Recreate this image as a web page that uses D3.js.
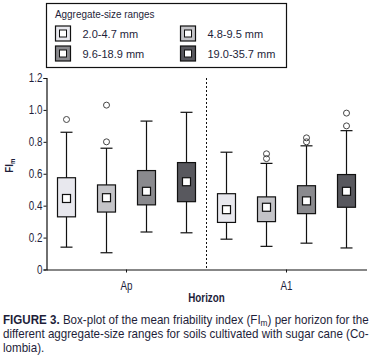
<!DOCTYPE html>
<html>
<head>
<meta charset="utf-8">
<script src="https://cdn.jsdelivr.net/npm/d3@7"></script>
<style>
  body { margin: 0; background: #fff; }
  svg text { fill: #1e1e3a; }
</style>
</head>
<body>
<svg id="chart" width="375" height="361"></svg>
<script>
// Box-plot of mean friability index per horizon and aggregate-size range

const horizons = ['Ap', 'A1'];
const sizeRanges = ['2.0-4.7 mm', '4.8-9.5 mm', '9.6-18.9 mm', '19.0-35.7 mm'];
const fills = ['#e8e8ee', '#c4c4c8', '#8a8a8e', '#58585e'];
const yTicks = [0, 0.2, 0.4, 0.6, 0.8, 1.0, 1.2];

// [whiskerLow, q1, q3, whiskerHigh, mean] per horizon, per size range
const apStats = [
  [0.14, 0.33, 0.575, 0.86, 0.445],
  [0.105, 0.36, 0.53, 0.76, 0.45],
  [0.235, 0.405, 0.62, 0.93, 0.49],
  [0.23, 0.425, 0.67, 0.985, 0.55]
];
const a1Stats = [
  [0.19, 0.295, 0.475, 0.735, 0.375],
  [0.145, 0.30, 0.455, 0.665, 0.39],
  [0.165, 0.35, 0.525, 0.775, 0.43],
  [0.135, 0.39, 0.595, 0.87, 0.49]
];
const apOutliers = [[0.94], [1.03, 0.80], [], []];
const a1Outliers = [[], [0.695, 0.725], [0.80, 0.825], [0.90, 0.98]];

const svg = d3.select('#chart');
const font = '"Liberation Sans", Arial, sans-serif';
const m = { left: 46.5, right: 366.5, top: 78, bottom: 269.5 };

const x = d3.scaleBand().domain(horizons).range([m.left, m.right]);
const xs = d3.scaleBand().domain(sizeRanges).range([0, x.bandwidth()]);
const y = d3.scaleLinear().domain([0, 1.2]).range([m.bottom, m.top]);
const boxW = 18;

// squeeze text horizontally to mimic the narrow typeface of the original
const narrow = (sel, k) => sel.attr('transform', function() {
  const old = d3.select(this).attr('transform');
  return (old ? old + ' ' : '') + `scale(${k},1)`;
});

const rows = [];
[apStats, a1Stats].forEach((stats, hi) => {
  stats.forEach((s, si) => {
    rows.push({
      h: horizons[hi], r: sizeRanges[si], fill: fills[si],
      lo: s[0], q1: s[1], q3: s[2], hi: s[3], mean: s[4],
      out: (hi === 0 ? apOutliers : a1Outliers)[si]
    });
  });
});

const cx = d => x(d.h) + xs(d.r) + xs.bandwidth() / 2;

// axes
const yAxis = svg.append('g').attr('transform', `translate(${m.left},0)`)
  .call(d3.axisLeft(y).tickValues(yTicks).tickSize(3).tickPadding(2)
    .tickFormat(d => d === 0 ? '0' : d3.format('.1f')(d)));
yAxis.select('.domain').attr('stroke', '#111').attr('stroke-width', 1.2);
yAxis.selectAll('.tick line').attr('stroke', '#111');
yAxis.selectAll('text').style('font-family', font).style('font-size', '12px').attr('fill', '#1e1e3a')
  .call(narrow, 0.82);

const xAxis = svg.append('g').attr('transform', `translate(0,${m.bottom})`)
  .call(d3.axisBottom(x).tickSize(3).tickSizeOuter(0).tickPadding(9));
xAxis.select('.domain').attr('stroke', '#111').attr('stroke-width', 1.2);
xAxis.selectAll('.tick line').attr('stroke', '#111');
xAxis.selectAll('text').style('font-family', font).style('font-size', '12px').attr('fill', '#1e1e3a')
  .call(narrow, 0.82);

// divider between horizons
svg.append('line')
  .attr('x1', x('A1')).attr('x2', x('A1'))
  .attr('y1', y(1.2)).attr('y2', m.bottom)
  .attr('stroke', '#111').attr('stroke-dasharray', '2,2');

// boxes
const g = svg.append('g').selectAll('g').data(rows).join('g');
g.append('line')
  .attr('x1', cx).attr('x2', cx)
  .attr('y1', d => y(d.lo)).attr('y2', d => y(d.hi))
  .attr('stroke', '#111').attr('stroke-width', 1.2);
g.append('line')
  .attr('x1', d => cx(d) - 6).attr('x2', d => cx(d) + 6)
  .attr('y1', d => y(d.lo)).attr('y2', d => y(d.lo))
  .attr('stroke', '#111').attr('stroke-width', 1.2);
g.append('line')
  .attr('x1', d => cx(d) - 6).attr('x2', d => cx(d) + 6)
  .attr('y1', d => y(d.hi)).attr('y2', d => y(d.hi))
  .attr('stroke', '#111').attr('stroke-width', 1.2);
g.append('rect')
  .attr('x', d => cx(d) - boxW / 2).attr('width', boxW)
  .attr('y', d => y(d.q3)).attr('height', d => y(d.q1) - y(d.q3))
  .attr('fill', d => d.fill).attr('stroke', '#111').attr('stroke-width', 1.2);
g.append('rect')
  .attr('x', d => cx(d) - 4).attr('width', 8)
  .attr('y', d => y(d.mean) - 4).attr('height', 8)
  .attr('fill', '#fff').attr('stroke', '#111').attr('stroke-width', 1.2);
g.selectAll('circle').data(d => d.out.map(v => ({ v, c: cx(d) }))).join('circle')
  .attr('cx', d => d.c).attr('cy', d => y(d.v)).attr('r', 3)
  .attr('fill', 'none').attr('stroke', '#444').attr('stroke-width', 1);

// axis titles
svg.append('text')
  .attr('transform', `translate(13,${(m.top + m.bottom) / 2 - 8}) rotate(-90) scale(0.85,1)`)
  .attr('text-anchor', 'middle')
  .style('font-family', font).style('font-size', '11.5px').style('font-weight', 'bold')
  .html('FI<tspan font-size="7" dy="2">m</tspan>');
svg.append('text')
  .attr('transform', `translate(${(m.left + m.right) / 2},302) scale(0.82,1)`)
  .attr('text-anchor', 'middle')
  .style('font-family', font).style('font-size', '12px').style('font-weight', 'bold')
  .text('Horizon');

// legend
const lg = svg.append('g');
lg.append('rect').attr('x', 46.5).attr('y', 3.5).attr('width', 240).attr('height', 64)
  .attr('fill', '#fff').attr('stroke', '#111').attr('stroke-width', 1.2);
lg.append('text').attr('transform', 'translate(55,18) scale(0.9,1)')
  .style('font-family', font).style('font-size', '11px')
  .text('Aggregate-size ranges');
const li = lg.selectAll('g.item').data(sizeRanges).join('g').attr('class', 'item')
  .attr('transform', (d, i) => `translate(${i % 2 ? 180.5 : 55.5},${i < 2 ? 26 : 46})`);
li.append('rect').attr('width', 15).attr('height', 15)
  .attr('fill', (d, i) => fills[i]).attr('stroke', '#111').attr('stroke-width', 1.2);
li.append('rect').attr('x', 4).attr('y', 4).attr('width', 7).attr('height', 7)
  .attr('fill', '#fff').attr('stroke', '#111').attr('stroke-width', 1);
li.append('text').attr('x', 27).attr('y', 12)
  .style('font-family', font).style('font-size', '11px')
  .text(d => d);

// caption
const capLines = [
  ['FIGURE 3.', ' Box-plot of the mean friability index (FI', 'm', ') per horizon for the'],
  ['', 'different aggregate-size ranges for soils cultivated with sugar cane (Co-'],
  ['', 'lombia).']
];
const capG = svg.append('g');
const capTexts = capLines.map((parts, i) => {
  const t = capG.append('text').attr('x', 0).attr('y', 324 + i * 14)
    .style('font-family', font).style('font-size', '12.5px');
  if (parts[0]) t.append('tspan').style('font-weight', 'bold').text(parts[0]);
  t.append('tspan').text(parts[1]);
  if (parts.length > 2) {
    t.append('tspan').attr('font-size', '9').attr('dy', 2).text(parts[2]);
    t.append('tspan').attr('dy', -2).text(parts[3]);
  }
  return t;
});
const line1W = capTexts[0].node().getComputedTextLength();
capG.attr('transform', `translate(3,0) scale(${366 / line1W},1)`);
</script>
</body>
</html>
